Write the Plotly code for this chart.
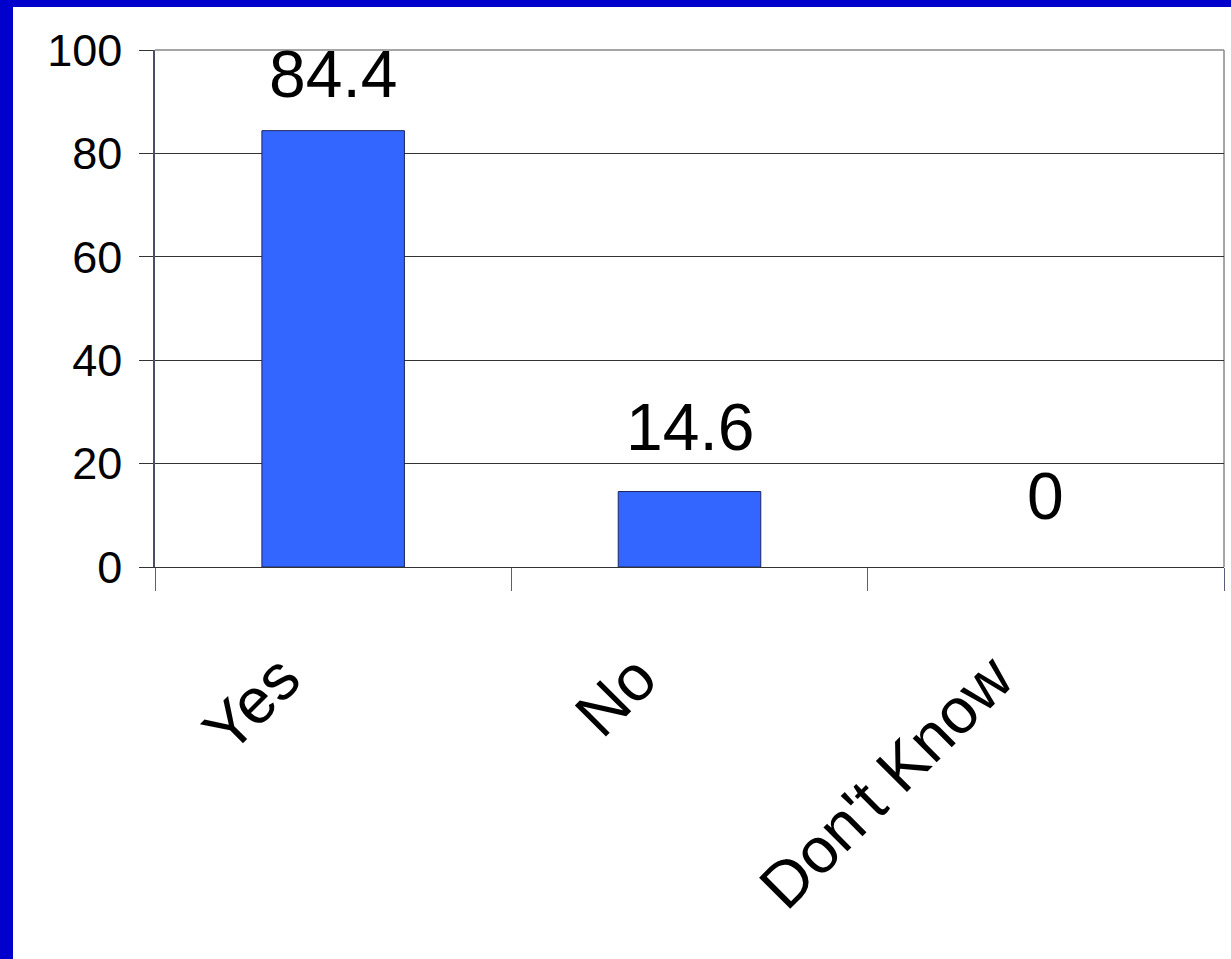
import plotly.graph_objects as go

# Survey responses (percent)
categories = ["Yes", "No", "Don't Know"]
values = [84.4, 14.6, 0]
y_ticks = [0, 20, 40, 60, 80, 100]

# Vertical offset (px) of each value label above its bar
label_offsets = [18, 26, 32]

W, H = 1231, 959
L, R, T, B = 155, 7, 50, 392
FONT = "Liberation Sans, Arial, sans-serif"

fig = go.Figure()
fig.add_trace(go.Bar(
    x=categories,
    y=values,
    marker=dict(
        color="#3366FF",
        line=dict(color="#1b2660", width=[1 if v else 0 for v in values]),
    ),
    hoverinfo="skip",
))

for cat, val, off in zip(categories, values, label_offsets):
    fig.add_annotation(
        x=cat, y=val, text=f"{val:g}", showarrow=False,
        xanchor="center", yanchor="bottom", yshift=off,
        font=dict(family=FONT, size=66, color="black"),
    )

pw = W - L - R
ph = H - T - B


def px_x(p):
    return (p - L) / pw


def px_y(p):
    return (H - B - p) / ph


shapes = [
    # blue slide border (left and top)
    dict(type="rect", xref="paper", yref="paper",
         x0=px_x(0), x1=px_x(13), y0=px_y(H), y1=px_y(0),
         fillcolor="#0000CC", line=dict(width=0), layer="above"),
    dict(type="rect", xref="paper", yref="paper",
         x0=px_x(0), x1=px_x(W), y0=px_y(7), y1=px_y(0),
         fillcolor="#0000CC", line=dict(width=0), layer="above"),
    # light frame on top and right of the plot area
    dict(type="line", xref="paper", yref="paper", x0=0, x1=1, y0=1, y1=1,
         line=dict(color="#888888", width=1.5), layer="below"),
    dict(type="line", xref="paper", yref="paper", x0=1, x1=1, y0=0, y1=1,
         line=dict(color="#888888", width=1.5), layer="below"),
]

fig.update_layout(
    width=W, height=H,
    margin=dict(l=L, r=R, t=T, b=B, pad=0),
    paper_bgcolor="white",
    plot_bgcolor="white",
    showlegend=False,
    bargap=0.6,
    shapes=shapes,
    font=dict(family=FONT, color="black"),
)

fig.update_xaxes(
    type="category",
    range=[-0.5, 2.5],
    tickangle=-45,
    tickfont=dict(family=FONT, size=64, color="black"),
    showline=True, linecolor="#333333", linewidth=1,
    ticks="outside", tickson="boundaries", ticklen=23,
    tickcolor="#5a5e75", tickwidth=1,
    showgrid=False,
    ticklabelstandoff=47,
    ticklabelshift=-52,
)

fig.update_yaxes(
    range=[0, 100],
    tickvals=y_ticks,
    tickfont=dict(family=FONT, size=45, color="black"),
    showline=True, linecolor="#4b4f66", linewidth=1.5,
    ticks="outside", ticklen=14, tickcolor="#333333", tickwidth=1,
    showgrid=True, gridcolor="#333333", gridwidth=1,
    zeroline=False,
    ticklabelstandoff=8,
)

fig.write_html("out.html")
